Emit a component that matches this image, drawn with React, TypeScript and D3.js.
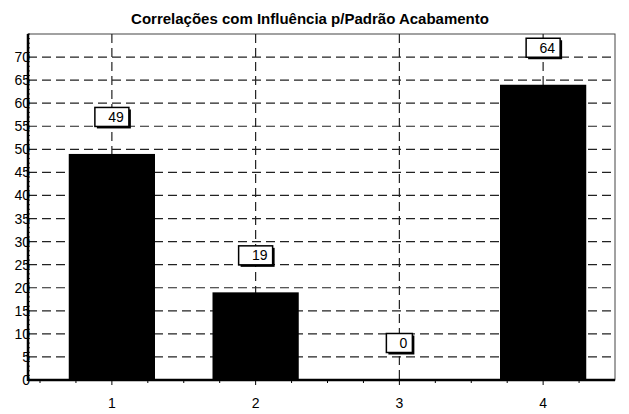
import * as d3 from "d3";

const categories = ["1", "2", "3", "4"];
const values = [49, 19, 0, 64];
const yTicks = [0, 5, 10, 15, 20, 25, 30, 35, 40, 45, 50, 55, 60, 65, 70];
const title = "Correlações com Influência p/Padrão Acabamento";

const width = 629;
const height = 414;
const marginLeft = 28;
const marginRight = 14;
const marginTop = 34;
const marginBottom = 34;

const App = () => {
  const chartBottomY = height - marginBottom;
  const chartRightX = width - marginRight;

  const xScale = d3
    .scaleBand()
    .domain(categories)
    .range([40, chartRightX])
    .paddingInner(0.4)
    .paddingOuter(0.2);

  const yScale = d3.scaleLinear().domain([0, 75]).range([chartBottomY, marginTop]);

  // quarter-step minor ticks along the bottom
  const step = xScale.step();
  const minorX = d3.range(0, 17).map((i) => 40 + (i * step) / 4).filter((x) => x < chartRightX);

  return (
    <svg
      width={width}
      height={height}
      viewBox={`0 0 ${width} ${height}`}
      style={{ position: "absolute", left: 0, top: 0, background: "#fff" }}
      fontFamily="Arial, 'Liberation Sans', sans-serif"
    >
      <text x={310} y={24} textAnchor="middle" fontSize={15} fontWeight="bold" fill="#000">
        {title}
      </text>

      {/* frame */}
      <rect
        x={marginLeft}
        y={marginTop}
        width={chartRightX - marginLeft}
        height={chartBottomY - marginTop}
        fill="#fff"
        stroke="#444"
        strokeWidth={1}
      />

      {/* grid */}
      <g className="grid" stroke="#222" strokeWidth={1.2} strokeDasharray="9,5">
        {yTicks
          .filter((t) => t > 0)
          .map((t) => (
            <line key={t} x1={marginLeft} x2={chartRightX} y1={yScale(t)} y2={yScale(t)} />
          ))}
        {categories.map((c) => (
          <line
            key={c}
            x1={xScale(c)! + xScale.bandwidth() / 2}
            x2={xScale(c)! + xScale.bandwidth() / 2}
            y1={marginTop}
            y2={chartBottomY}
          />
        ))}
      </g>

      {/* bars */}
      <g className="bars">
        {values.map((v, i) => (
          <rect
            key={categories[i]}
            x={xScale(categories[i])}
            y={yScale(v) - (v === 0 ? 1 : 0)}
            width={xScale.bandwidth()}
            height={Math.max(chartBottomY - yScale(v), 1)}
            fill={v === 0 ? "#888" : "#000"}
          />
        ))}
      </g>

      {/* axes */}
      <line x1={marginLeft} x2={marginLeft} y1={marginTop} y2={chartBottomY + 1} stroke="#000" strokeWidth={2.5} />
      <line x1={marginLeft} x2={chartRightX} y1={chartBottomY} y2={chartBottomY} stroke="#000" strokeWidth={2.5} />

      <g className="y-axis">
        {d3.range(0, 76).map((t) => (
          <line key={t} x1={marginLeft} x2={marginLeft + 2} y1={yScale(t)} y2={yScale(t)} stroke="#000" strokeWidth={0.8} />
        ))}
        {yTicks.map((t) => (
          <text key={t} x={marginLeft + 2} y={yScale(t) + 5} textAnchor="end" fontSize={14} fill="#000">
            {t}
          </text>
        ))}
      </g>

      <g className="x-axis">
        {minorX.map((x, i) => (
          <line key={i} x1={x} x2={x} y1={chartBottomY} y2={chartBottomY + (i % 4 === 2 ? 5 : 3)} stroke="#000" strokeWidth={1} />
        ))}
        {categories.map((c) => (
          <text
            key={c}
            x={xScale(c)! + xScale.bandwidth() / 2}
            y={chartBottomY + 28}
            textAnchor="middle"
            fontSize={14}
            fill="#000"
          >
            {c}
          </text>
        ))}
      </g>

      {/* value labels */}
      <g className="labels">
        {values.map((v, i) => {
          const cx = xScale(categories[i])! + xScale.bandwidth() / 2;
          const cy = yScale(v) - 37;
          const w = String(v).length > 1 ? 34 : 26;
          const h = 19;
          return (
            <g key={categories[i]}>
              <rect x={cx - w / 2 + 2} y={cy - h / 2 + 2} width={w} height={h} fill="#000" />
              <rect x={cx - w / 2} y={cy - h / 2} width={w} height={h} fill="#fff" stroke="#000" strokeWidth={1.5} />
              <text x={cx + w / 2 - 5} y={cy + 5} textAnchor="end" fontSize={14} fill="#000">
                {v}
              </text>
            </g>
          );
        })}
      </g>
    </svg>
  );
};

export default App;
